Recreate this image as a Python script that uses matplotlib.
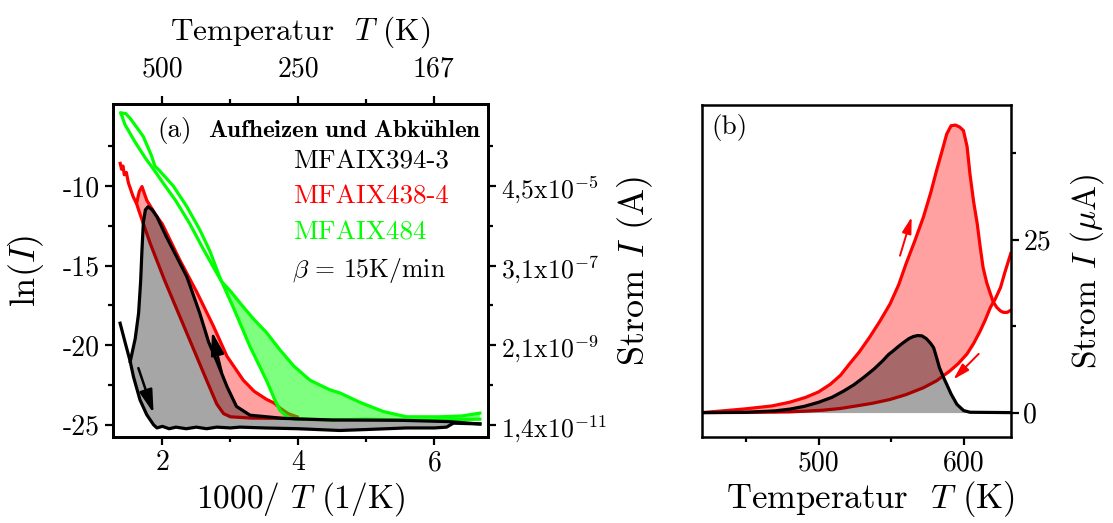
import numpy as np
import matplotlib
matplotlib.use("Agg")
import matplotlib.pyplot as plt
from matplotlib.ticker import FixedLocator

plt.rcParams["font.family"] = ["cmr10", "DejaVu Serif"]
plt.rcParams["mathtext.fontset"] = "cm"
plt.rcParams["axes.unicode_minus"] = False

# ---------------- panel (a): ln(I) versus 1000/T ----------------
# MFAIX394-3 (black)
x394_heat = [1.527, 1.60, 1.65, 1.68, 1.70, 1.72, 1.75, 1.79, 1.85, 1.92, 2.00, 2.06,
             2.36, 2.55, 2.68, 2.80, 2.95, 3.09, 3.29, 3.78, 4.50, 5.50, 6.20, 6.67]
y394_heat = [-21.03, -19.6, -18.0, -16.0, -14.0, -12.3, -11.5, -11.3, -11.5, -11.93, -12.66, -13.2,
             -15.7, -18.0, -19.8, -21.0, -22.6, -23.85, -24.4, -24.6, -24.7, -24.72, -24.8, -24.95]
x394_cool = [1.378, 1.45, 1.527, 1.574, 1.67, 1.77, 1.87, 1.92, 2.00, 2.10, 2.20, 2.35, 2.50,
             2.65, 2.80, 3.00, 3.14, 3.50, 4.00, 4.61, 5.00, 5.59, 6.00, 6.18, 6.28, 6.67]
y394_cool = [-18.62, -19.8, -21.03, -21.97, -23.43, -24.37, -25.0, -25.2, -25.1, -25.25, -25.15,
             -25.25, -25.15, -25.25, -25.15, -25.2, -25.15, -25.2, -25.25, -25.36, -25.3, -25.2,
             -25.2, -25.15, -24.9, -24.95]

# MFAIX438-4 (red)
x438_heat = [1.38, 1.40, 1.42, 1.44, 1.47, 1.50, 1.54, 1.57, 1.62, 1.66, 1.70, 1.77, 1.90,
             2.00, 2.25, 2.51, 2.75, 2.95, 3.19, 3.35, 3.53, 3.65, 3.73, 3.85, 3.98]
y438_heat = [-8.58, -8.95, -8.75, -9.3, -9.15, -9.8, -10.3, -10.67, -11.1, -10.35, -10.04, -10.9,
             -11.8, -12.4, -14.6, -16.7, -18.8, -20.7, -22.2, -22.9, -23.4, -23.65, -23.95, -24.3,
             -24.5]
x438_cool = [1.62, 1.65, 1.82, 2.03, 2.36, 2.65, 2.80, 2.90, 3.00, 3.30, 3.78, 3.98]
y438_cool = [-11.1, -11.5, -13.6, -15.9, -19.25, -22.2, -23.7, -24.3, -24.5, -24.58, -24.6, -24.55]

# MFAIX484 (green)
x484_cool = [1.39, 1.46, 1.525, 1.62, 1.72, 1.84, 1.89, 1.95, 2.16, 2.36, 2.55, 2.70, 2.85,
             3.04, 3.29, 3.45, 3.54, 3.65, 3.73, 3.85, 3.95, 4.50, 5.00, 5.50, 6.00, 6.67]
y484_cool = [-5.42, -5.45, -5.75, -6.3, -6.9, -8.1, -8.75, -9.0, -10.0, -11.3, -12.75, -14.1,
             -15.8, -17.6, -20.1, -21.5, -22.3, -23.4, -24.1, -24.55, -24.65, -24.7, -24.65,
             -24.7, -24.7, -24.65]
x484_heat = [1.39, 1.45, 1.60, 1.75, 1.87, 2.00, 2.20, 2.40, 2.60, 2.75, 2.87, 3.00, 3.19,
             3.35, 3.53, 3.73, 3.93, 4.17, 4.46, 4.61, 4.91, 5.25, 5.59, 6.08, 6.40, 6.67]
y484_heat = [-5.42, -6.15, -7.25, -8.25, -8.95, -9.75, -10.95, -12.35, -13.95, -15.1, -16.0,
             -16.6, -17.6, -18.4, -19.2, -20.3, -21.3, -22.2, -22.8, -23.0, -23.6, -24.17, -24.5,
             -24.5, -24.45, -24.27]

lnI_ticks = [-10, -15, -20, -25]
lnI_labels = ["-10", "-15", "-20", "-25"]
current_labels = [r"4,5x10$^{-5}$", r"3,1x10$^{-7}$", r"2,1x10$^{-9}$", r"1,4x10$^{-11}$"]
invT_ticks = [2, 4, 6]
T_top = [500, 250, 167]

# ---------------- panel (b): linear current versus temperature ----------------
Tb_394 = [420, 450, 470, 480, 490, 500, 509, 517, 524, 531, 538, 544, 548, 551, 555, 558,
          562, 565, 568, 571, 574, 577, 579, 581, 583, 586, 588, 591, 595, 599.6, 604, 632]
Ib_394 = [0, 0.05, 0.25, 0.5, 0.9, 1.5, 2.2, 3.1, 4.0, 5.1, 6.3, 7.5, 8.4, 8.9, 9.6, 10.1,
          10.7, 11.0, 11.15, 11.1, 10.7, 10.0, 9.4, 8.0, 6.5, 5.0, 4.1, 2.7, 1.2, 0.3, 0.05, 0]
Tb_438_heat = [420, 434, 450, 468, 480, 491, 500, 508, 515, 521, 528, 535, 542, 549, 555, 560,
               566, 572, 577, 581, 585, 588, 591, 594, 597, 599.5, 602, 604, 606.5, 609, 611,
               613, 615.5, 618, 620, 622.5, 625, 627, 629.5, 632]
Ib_438_heat = [0, 0.25, 0.55, 0.97, 1.5, 2.2, 3.0, 4.1, 5.4, 7.0, 8.8, 10.9, 13.2, 15.7, 18.5,
               21.5, 24.8, 28.3, 31.8, 35.0, 38.0, 40.3, 41.5, 41.6, 41.3, 40.8, 38.5, 34.5,
               30.5, 27.3, 24.0, 21.0, 18.8, 17.2, 16.0, 15.2, 14.7, 14.5, 14.5, 14.8]
Tb_438_cool = [632, 628, 625, 621.5, 618, 614.5, 611, 606.5, 602, 596, 590, 581, 572, 560,
               549, 537, 526, 515, 503, 490, 480, 460, 420]
Ib_438_cool = [23.0, 20.3, 18.1, 16.5, 15.2, 13.4, 11.8, 10.0, 8.5, 7.1, 6.0, 4.6, 3.6, 2.6,
               1.9, 1.35, 0.97, 0.6, 0.35, 0.2, 0.1, 0.03, 0]

RED = "#ff0000"
GREEN = "#00ff00"
LW = 2.3
TICK_FS = 20
LEG_FS = 19.5


def fill_loop(ax, xu, yu, xl, yl, color, alpha, zorder):
    """Shade the area where branch u lies above branch l."""
    xu, yu, xl, yl = (np.asarray(v, float) for v in (xu, yu, xl, yl))
    lo, hi = max(xu.min(), xl.min()), min(xu.max(), xl.max())
    grid = np.union1d(xu, xl)
    grid = grid[(grid >= lo) & (grid <= hi)]
    ou, ol = np.argsort(xu), np.argsort(xl)
    gu = np.interp(grid, xu[ou], yu[ou])
    gl = np.interp(grid, xl[ol], yl[ol])
    ax.fill_between(grid, gu, gl, where=gu >= gl, interpolate=True,
                    color=color, alpha=alpha, lw=0, zorder=zorder)


def arrow(ax, start, end, color, lw, scale):
    ax.annotate("", xy=end, xytext=start,
                arrowprops=dict(arrowstyle="-|>,head_length=1.4,head_width=0.4",
                                color=color, lw=lw, mutation_scale=scale,
                                shrinkA=0, shrinkB=0), zorder=10)


def style_ticks(a, **kw):
    a.tick_params(which="both", direction="out", width=1.6, labelsize=TICK_FS, **kw)
    a.tick_params(which="major", length=5.5)
    a.tick_params(which="minor", length=3.5)
    for s in a.spines.values():
        s.set_linewidth(1.8)


fig = plt.figure(figsize=(11.13, 5.23), dpi=100)
ax_a = fig.add_axes([0.1013, 0.1635, 0.3372, 0.6377])
ax_b = fig.add_axes([0.631, 0.1635, 0.2771, 0.6357])

# ---- panel (a) ----
fill_loop(ax_a, x438_heat, y438_heat, x438_cool, y438_cool, RED, 0.37, 1)
ax_a.plot(x438_heat, y438_heat, color=RED, lw=LW, zorder=2)
ax_a.plot(x438_cool, y438_cool, color=RED, lw=LW, zorder=2)
fill_loop(ax_a, x484_heat, y484_heat, x484_cool, y484_cool, GREEN, 0.5, 3)
ax_a.plot(x484_heat, y484_heat, color=GREEN, lw=LW, zorder=4)
ax_a.plot(x484_cool, y484_cool, color=GREEN, lw=LW, zorder=4)
fill_loop(ax_a, x394_heat, y394_heat, x394_cool, y394_cool, "black", 0.35, 5)
ax_a.plot(x394_heat, y394_heat, color="black", lw=LW, zorder=6)
ax_a.plot(x394_cool, y394_cool, color="black", lw=LW, zorder=6)
arrow(ax_a, (1.647, -21.44), (1.87, -24.27), "black", 1.8, 10)
arrow(ax_a, (2.87, -21.66), (2.73, -19.15), "black", 1.8, 10)

ax_a.set_xlim(1.27, 6.79)
ax_a.set_ylim(-25.8, -4.85)
ax_a.xaxis.set_major_locator(FixedLocator(invT_ticks))
ax_a.xaxis.set_minor_locator(FixedLocator([3, 5]))
ax_a.set_xticklabels([str(v) for v in invT_ticks])
ax_a.yaxis.set_major_locator(FixedLocator(lnI_ticks))
ax_a.yaxis.set_minor_locator(FixedLocator([-7.5, -12.5, -17.5, -22.5]))
ax_a.set_yticklabels(lnI_labels)
ax_a.set_xlabel("1000/ $T$ (1/K)", fontsize=24, labelpad=3)
ax_a.set_ylabel(r"ln$(I)$", fontsize=26, labelpad=12)

top = ax_a.twiny()
top.set_xlim(ax_a.get_xlim())
top.xaxis.set_major_locator(FixedLocator([1000 / t for t in T_top]))
top.xaxis.set_minor_locator(FixedLocator([3, 5]))
top.set_xticklabels([str(t) for t in T_top])
top.set_xlabel("Temperatur  $T$ (K)", fontsize=22.5, labelpad=12)

right = ax_a.twinx()
right.set_ylim(ax_a.get_ylim())
right.yaxis.set_major_locator(FixedLocator(lnI_ticks))
right.yaxis.set_minor_locator(FixedLocator([-7.5, -12.5, -17.5, -22.5]))
right.set_yticklabels(current_labels)
right.set_ylabel("Strom $I$ (A)", fontsize=26, labelpad=6)

style_ticks(ax_a)
style_ticks(top)
style_ticks(right)
top.tick_params(which="major", pad=10)
right.tick_params(labelsize=18.5)

ta = ax_a.transAxes
ax_a.text(0.119, 0.919, "(a)", transform=ta, fontsize=LEG_FS, va="center", ha="left", zorder=12)
ax_a.text(0.254, 0.919, r"$\mathbf{Aufheizen\ und\ Abk\ddot{u}hlen}$", transform=ta,
          fontsize=18, va="center", ha="left", zorder=12)
ax_a.text(0.480, 0.826, "MFAIX394-3", transform=ta, fontsize=LEG_FS, va="center", color="black")
ax_a.text(0.480, 0.721, "MFAIX438-4", transform=ta, fontsize=LEG_FS, va="center", color=RED)
ax_a.text(0.480, 0.613, "MFAIX484", transform=ta, fontsize=LEG_FS, va="center", color=GREEN)
ax_a.text(0.478, 0.502, r"$\beta\, =\, \mathrm{15K/min}$", transform=ta, fontsize=18.5,
          va="center")

# ---- panel (b) ----
fill_loop(ax_b, Tb_438_heat, Ib_438_heat, Tb_438_cool, Ib_438_cool, RED, 0.37, 1)
ax_b.plot(Tb_438_heat, Ib_438_heat, color=RED, lw=LW, zorder=2)
ax_b.plot(Tb_438_cool, Ib_438_cool, color=RED, lw=LW, zorder=2)
ax_b.fill_between(Tb_394, Ib_394, 0, color="black", alpha=0.35, lw=0, zorder=5)
ax_b.plot(Tb_394, Ib_394, color="black", lw=LW, zorder=6)
arrow(ax_b, (555.9, 22.7), (563.9, 28.3), RED, 1.4, 7)
arrow(ax_b, (610.0, 8.5), (592.6, 4.8), RED, 1.4, 7)

ax_b.set_xlim(420, 632)
ax_b.set_ylim(-3.6, 44.5)
ax_b.xaxis.set_major_locator(FixedLocator([500, 600]))
ax_b.xaxis.set_minor_locator(FixedLocator([450, 550]))
ax_b.yaxis.set_major_locator(FixedLocator([0, 25]))
ax_b.yaxis.set_minor_locator(FixedLocator([12.5, 37.5]))
ax_b.set_xticklabels(["500", "600"])
ax_b.set_yticklabels(["0", "25"])
ax_b.yaxis.tick_right()
ax_b.yaxis.set_label_position("right")
style_ticks(ax_b, left=False, top=False, right=True, bottom=True)
ax_b.set_xlabel("Temperatur  $T$ (K)", fontsize=25)
ax_b.xaxis.set_label_coords(0.545, -0.125)
ax_b.set_ylabel(r"Strom $I$ ($\mu$A)", fontsize=24, labelpad=12)
ax_b.text(0.031, 0.931, "(b)", transform=ax_b.transAxes, fontsize=LEG_FS, va="center",
          ha="left")

fig.savefig("out.png", dpi=100)
